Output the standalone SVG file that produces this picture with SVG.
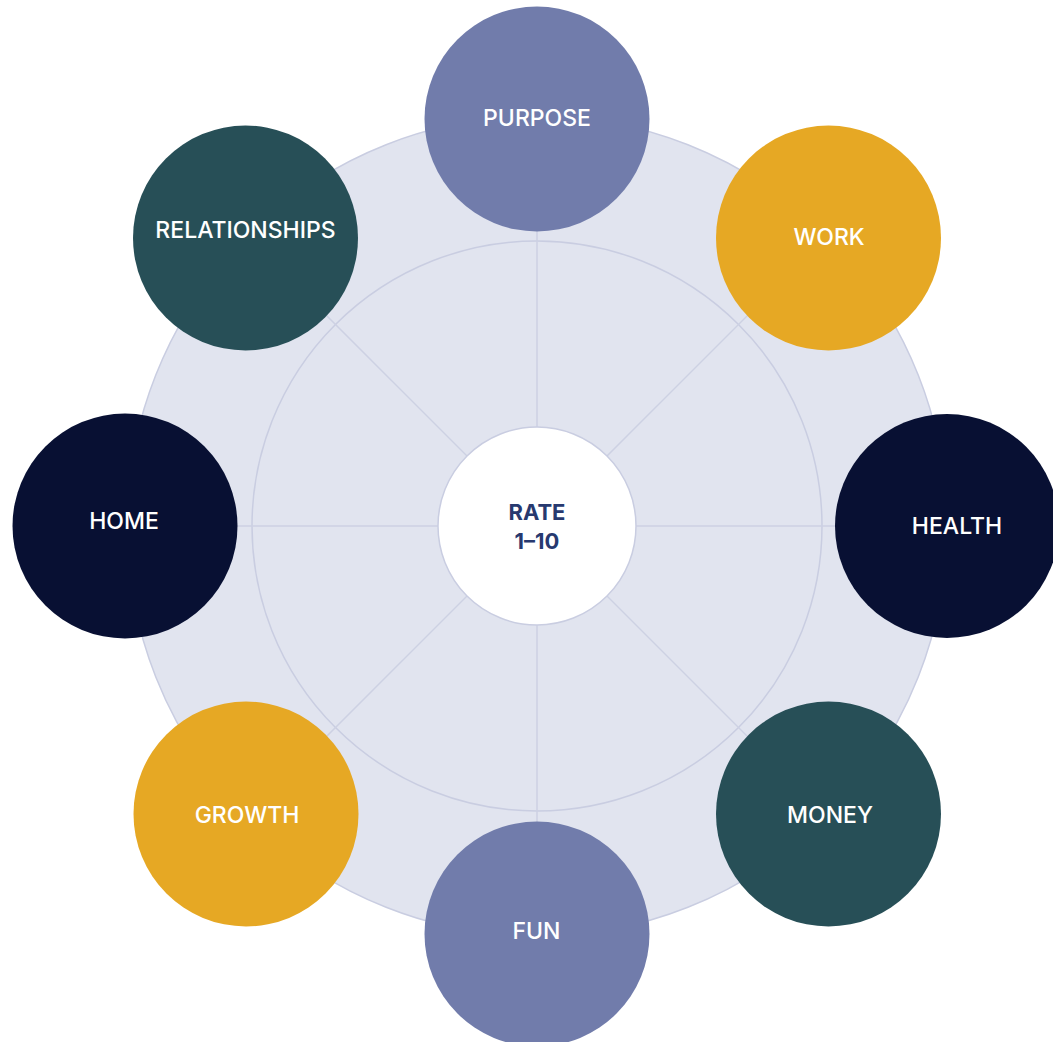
<svg xmlns="http://www.w3.org/2000/svg" width="1053" height="1042" viewBox="0 0 1053 1042">
  <style>
    .ring { fill: #E1E4EF; stroke: #C9CDE1; stroke-width: 1.5; }
    .inner { fill: none; stroke: #C9CDE1; stroke-width: 1.5; }
    .spoke { stroke: #CDD1E3; stroke-width: 1.5; }
    .hub { fill: #FFFFFF; stroke: #C9CDE1; stroke-width: 1.5; }
    .hub-text { font-family: Inter, "Noto Sans", "DejaVu Sans", sans-serif; font-size: 22px; font-weight: 700; fill: #27396F; text-anchor: middle; }
    .label { font-family: Inter, "Noto Sans", "DejaVu Sans", sans-serif; font-size: 23px; font-weight: 550; fill: #FFFFFF; text-anchor: middle; }
    .purple { fill: #717CAB; }
    .gold { fill: #E6A824; }
    .teal { fill: #274F57; }
    .navy { fill: #081033; }
  </style>

  <!-- wheel background -->
  <circle class="ring" cx="537" cy="526" r="410"/>
  <circle class="inner" cx="537" cy="526" r="285"/>

  <!-- spokes -->
  <g id="connectors">
    <line class="spoke" x1="537" y1="526" x2="537" y2="116"/>
    <line class="spoke" x1="537" y1="526" x2="827" y2="236"/>
    <line class="spoke" x1="537" y1="526" x2="947" y2="526"/>
    <line class="spoke" x1="537" y1="526" x2="827" y2="816"/>
    <line class="spoke" x1="537" y1="526" x2="537" y2="936"/>
    <line class="spoke" x1="537" y1="526" x2="247" y2="816"/>
    <line class="spoke" x1="537" y1="526" x2="127" y2="526"/>
    <line class="spoke" x1="537" y1="526" x2="247" y2="236"/>
  </g>

  <!-- hub -->
  <g id="hub">
    <circle class="hub" cx="537" cy="526" r="99"/>
    <text class="hub-text" x="537" y="520">RATE</text>
    <text class="hub-text" x="537" y="548.5">1–10</text>
  </g>

  <g id="purpose">
    <circle class="purple" cx="537" cy="119" r="112.5"/>
    <text class="label" x="537" y="126">PURPOSE</text>
  </g>
  <g id="work">
    <circle class="gold" cx="828.5" cy="238" r="112.5"/>
    <text class="label" x="829" y="245">WORK</text>
  </g>
  <g id="health">
    <circle class="navy" cx="947" cy="526" r="112"/>
    <text class="label" x="957" y="534">HEALTH</text>
  </g>
  <g id="money">
    <circle class="teal" cx="828.5" cy="814" r="112.5"/>
    <text class="label" x="830" y="823">MONEY</text>
  </g>
  <g id="fun">
    <circle class="purple" cx="537" cy="934" r="112.5"/>
    <text class="label" x="536.5" y="939">FUN</text>
  </g>
  <g id="growth">
    <circle class="gold" cx="246" cy="814" r="112.5"/>
    <text class="label" x="247" y="822.5">GROWTH</text>
  </g>
  <g id="home">
    <circle class="navy" cx="125" cy="526" r="112.5"/>
    <text class="label" x="124" y="529">HOME</text>
  </g>
  <g id="relationships">
    <circle class="teal" cx="245.5" cy="238" r="112.5"/>
    <text class="label" x="245.5" y="238">RELATIONSHIPS</text>
  </g>
</svg>
